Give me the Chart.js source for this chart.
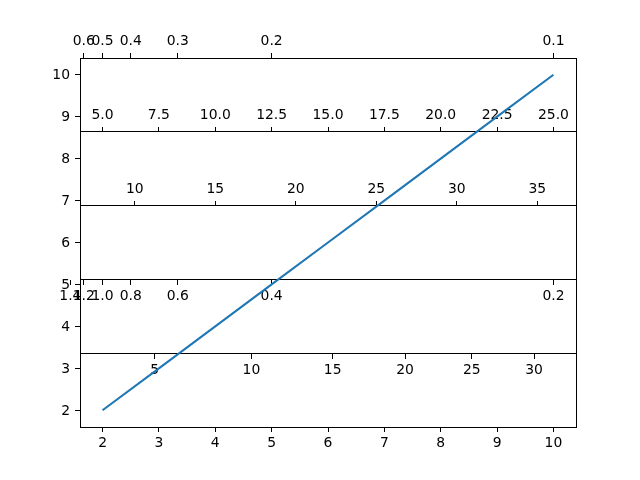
<!DOCTYPE html>
<html>
<head>
<meta charset="utf-8">
<script src="https://cdn.jsdelivr.net/npm/chart.js@4"></script>
<style>
html,body{margin:0;padding:0;background:#fff;}
canvas{display:block;}
</style>
</head>
<body>
<canvas id="c" width="640" height="480"></canvas>
<script>
// ---- data ----
const xValues = [2, 3, 4, 5, 6, 7, 8, 9, 10];
const yValues = [2, 3, 4, 5, 6, 7, 8, 9, 10];
const xTicks = [2, 3, 4, 5, 6, 7, 8, 9, 10];
const yTicks = [2, 3, 4, 5, 6, 7, 8, 9, 10];
// secondary axis tick labels
const topLabels = ['0.6', '0.5', '0.4', '0.3', '0.2', '0.1'];        // 1/x
const sec08Labels = ['5.0', '7.5', '10.0', '12.5', '15.0', '17.5', '20.0', '22.5', '25.0']; // 2.5x
const sec06Labels = ['10', '15', '20', '25', '30', '35'];              // 3.5x+1
const sec04Labels = ['1.4', '1.2', '1.0', '0.8', '0.6', '0.4', '0.2']; // 2/x
const sec02Labels = ['5', '10', '15', '20', '25', '30'];               // x^1.5

// inverse transforms: secondary value -> parent x
const invTop = v => 1 / v;
const inv08 = v => v / 2.5;
const inv06 = v => (v - 1) / 3.5;
const inv04 = v => 2 / v;
const inv02 = v => Math.pow(v, 2 / 3);

const X_MIN = 1.6, X_MAX = 10.4, Y_MIN = 1.6, Y_MAX = 10.4;
const FONT = {family: 'DejaVu Sans', size: 13.9};

Chart.defaults.color = '#000';
Chart.defaults.font.family = 'DejaVu Sans';
Chart.defaults.font.size = 13.9;

function zeroPad(s) { s.paddingLeft = 0; s.paddingRight = 0; s.paddingTop = 0; s.paddingBottom = 0; }

function secAxis(position, labels, inv, tickLen, pad) {
  return {
    type: 'linear', axis: 'x', position: position, display: true,
    min: X_MIN, max: X_MAX,
    afterBuildTicks: s => { s.ticks = labels.map(l => ({value: inv(parseFloat(l))})); },
    afterFit: s => { zeroPad(s); if (typeof position === 'string') { s.height = 58; } },
    ticks: {
      autoSkip: false, maxRotation: 0, minRotation: 0, padding: pad, font: FONT, color: '#000',
      callback: (val, i) => labels[i]
    },
    grid: {display: true, drawOnChartArea: false, drawTicks: true, tickLength: tickLen, tickColor: '#000', tickWidth: 1},
    border: {display: true, color: '#000', width: 1}
  };
}

const points = xValues.map((x, i) => ({x: x, y: yValues[i]}));

new Chart(document.getElementById('c'), {
  type: 'line',
  data: {
    datasets: [{
      data: points,
      borderColor: '#1f77b4',
      borderWidth: 2.1,
      pointRadius: 0,
      tension: 0,
      fill: false,
      xAxisID: 'x', yAxisID: 'y'
    }]
  },
  options: {
    responsive: false,
    animation: false,
    devicePixelRatio: 1,
    layout: {padding: 0},
    plugins: {legend: {display: false}, tooltip: {enabled: false}},
    scales: {
      x: {
        type: 'linear', position: 'bottom', min: X_MIN, max: X_MAX,
        afterBuildTicks: s => { s.ticks = xTicks.map(v => ({value: v})); },
        afterFit: s => { zeroPad(s); s.height = 53; },
        ticks: {autoSkip: false, maxRotation: 0, minRotation: 0, padding: 3.5, font: FONT, color: '#000',
          callback: v => String(v)},
        grid: {display: true, drawOnChartArea: false, drawTicks: true, tickLength: 5, tickColor: '#000', tickWidth: 1},
        border: {display: true, color: '#000', width: 1}
      },
      y: {
        type: 'linear', position: 'left', min: Y_MIN, max: Y_MAX,
        afterBuildTicks: s => { s.ticks = yTicks.map(v => ({value: v})); },
        afterFit: s => { zeroPad(s); s.width = 80; },
        ticks: {autoSkip: false, padding: 5, labelOffset: 1, font: FONT, color: '#000', callback: v => String(v)},
        grid: {display: true, drawOnChartArea: false, drawTicks: true, tickLength: 5, tickColor: '#000', tickWidth: 1},
        border: {display: true, color: '#000', width: 1}
      },
      yR: {
        type: 'linear', axis: 'y', position: 'right', display: true, min: Y_MIN, max: Y_MAX,
        afterFit: s => { zeroPad(s); s.width = 64; },
        ticks: {display: false},
        grid: {display: true, drawOnChartArea: false, drawTicks: false},
        border: {display: true, color: '#000', width: 1}
      },
      xTop: secAxis('top', topLabels, invTop, 5, 3.5),
      x08: secAxis({y: 8.64}, sec08Labels, inv08, -5, -19.8),
      x06: secAxis({y: 6.88}, sec06Labels, inv06, -5, -19.8),
      x04: secAxis({y: 5.12}, sec04Labels, inv04, 5, 3.5),
      x02: secAxis({y: 3.36}, sec02Labels, inv02, 5, 3.5)
    }
  }
});
</script>
</body>
</html>
